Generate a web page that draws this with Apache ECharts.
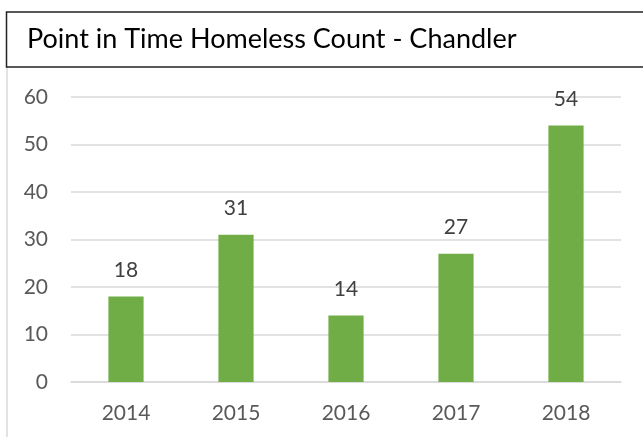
<!DOCTYPE html>
<html>
<head>
<meta charset="utf-8">
<script src="https://cdn.jsdelivr.net/npm/echarts@6/dist/echarts.min.js"></script>
<style>
  html, body { margin: 0; padding: 0; background: #fff; }
  #chart { width: 643px; height: 437px; }
</style>
</head>
<body>
<div id="chart"></div>
<script>
// Annual point-in-time homeless count for Chandler
const years = ['2014', '2015', '2016', '2017', '2018'];
const counts = [18, 31, 14, 27, 54];
const yTicks = { min: 0, max: 60, interval: 10 };

const FONT = 'Lato, "Open Sans", sans-serif';

const chart = echarts.init(document.getElementById('chart'), null, { renderer: 'canvas' });

chart.setOption({
  animation: false,
  backgroundColor: '#ffffff',
  title: {
    text: 'Point in Time Homeless Count - Chandler',
    left: 27,
    top: 26,
    padding: 0,
    textStyle: { fontFamily: FONT, fontSize: 27, fontWeight: 'normal', color: '#000000' }
  },
  graphic: [
    {
      type: 'line',
      shape: { x1: 7, y1: 67, x2: 7, y2: 437 },
      style: { stroke: '#d9d9d9', lineWidth: 1.5 },
      silent: true
    },
    {
      type: 'rect',
      shape: { x: 6.5, y: 12, width: 660, height: 55 },
      style: { fill: 'none', stroke: '#222222', lineWidth: 1.5 },
      silent: true
    }
  ],
  grid: { left: 71, right: 22, top: 97, bottom: 55, containLabel: false },
  xAxis: {
    type: 'category',
    data: years,
    axisLine: { show: true, lineStyle: { color: '#d9d9d9', width: 1.5 } },
    axisTick: { show: false },
    axisLabel: { color: '#595959', fontFamily: FONT, fontSize: 21, margin: 21 }
  },
  yAxis: {
    type: 'value',
    min: yTicks.min,
    max: yTicks.max,
    interval: yTicks.interval,
    axisLine: { show: false },
    axisTick: { show: false },
    splitLine: { lineStyle: { color: '#d9d9d9', width: 1.5 } },
    axisLabel: { color: '#595959', fontFamily: FONT, fontSize: 21, margin: 23 }
  },
  series: [{
    type: 'bar',
    data: counts,
    barWidth: '32%',
    itemStyle: { color: '#70ad47' },
    label: {
      show: true,
      position: 'top',
      distance: 16,
      color: '#404040',
      fontFamily: FONT,
      fontSize: 21
    }
  }]
});
</script>
</body>
</html>
